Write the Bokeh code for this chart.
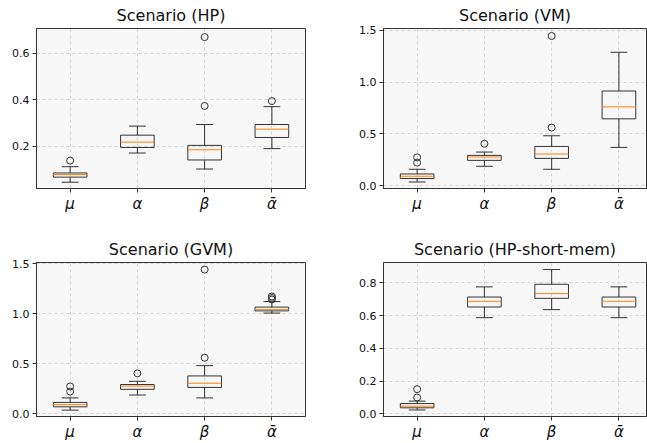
from bokeh.plotting import figure
from bokeh.layouts import gridplot
from bokeh.models import FixedTicker, NumeralTickFormatter, ColumnDataSource, Range1d
from bokeh.embed import file_html
from bokeh.resources import INLINE

# ---- data (box statistics) ----
params = ["μ", "α", "β", "α\u0304"]
positions = [1, 2, 3, 4]

hp_low = [0.044, 0.170, 0.101, 0.189]
hp_q1 = [0.066, 0.194, 0.140, 0.237]
hp_med = [0.077, 0.217, 0.184, 0.273]
hp_q3 = [0.084, 0.247, 0.203, 0.293]
hp_high = [0.111, 0.286, 0.293, 0.370]
hp_out_x = [1, 3, 3, 4]
hp_out_y = [0.137, 0.373, 0.670, 0.394]

vm_low = [0.038, 0.189, 0.160, 0.371]
vm_q1 = [0.071, 0.246, 0.265, 0.646]
vm_med = [0.093, 0.278, 0.307, 0.761]
vm_q3 = [0.115, 0.294, 0.380, 0.914]
vm_high = [0.160, 0.326, 0.483, 1.287]
vm_out_x = [1, 1, 2, 3, 3]
vm_out_y = [0.224, 0.275, 0.406, 0.562, 1.444]

gvm_low = [0.038, 0.189, 0.160, 1.009]
gvm_q1 = [0.071, 0.246, 0.265, 1.031]
gvm_med = [0.093, 0.278, 0.307, 1.043]
gvm_q3 = [0.115, 0.294, 0.380, 1.069]
gvm_high = [0.160, 0.326, 0.483, 1.124]
gvm_out_x = [1, 1, 2, 3, 3, 4, 4, 4]
gvm_out_y = [0.224, 0.275, 0.406, 0.562, 1.444, 1.145, 1.160, 1.175]

sm_low = [0.024, 0.588, 0.637, 0.588]
sm_q1 = [0.037, 0.653, 0.706, 0.653]
sm_med = [0.047, 0.688, 0.735, 0.688]
sm_q3 = [0.063, 0.714, 0.792, 0.714]
sm_high = [0.078, 0.776, 0.882, 0.776]
sm_out_x = [1, 1]
sm_out_y = [0.100, 0.151]

BOX_W = 0.5
CAP_W = 0.25
LINE = "#333333"
MED = "#ff7f0e"


def panel(title, low, q1, med, q3, high, ox, oy, yr, yticks, fmt, left, width, xend, top, bottom, height):
    p = figure(width=width, height=height, output_backend="svg", toolbar_location=None,
               x_range=Range1d(0.5, xend), y_range=Range1d(*yr),
               min_border_left=left, min_border_right=width - left - int(round((xend - 0.5) * 67.25)),
               min_border_top=top, min_border_bottom=bottom,
               background_fill_color="#f7f7f7", border_fill_color="white")
    p.title.text = title
    p.title.align = "center"
    p.title.text_font = "DejaVu Sans"
    p.title.text_font_size = "16px"
    p.title.text_font_style = "normal"
    p.title.text_color = "#111111"
    p.title.standoff = 7
    p.outline_line_color = LINE
    p.outline_line_width = 1

    src = ColumnDataSource(dict(x=positions, low=low, q1=q1, med=med, q3=q3, high=high,
                                l=[x - BOX_W / 2 for x in positions], r=[x + BOX_W / 2 for x in positions],
                                cl=[x - CAP_W / 2 for x in positions], cr=[x + CAP_W / 2 for x in positions]))
    p.segment(x0="x", y0="low", x1="x", y1="q1", source=src, line_color=LINE, line_width=1)
    p.segment(x0="x", y0="q3", x1="x", y1="high", source=src, line_color=LINE, line_width=1)
    p.segment(x0="cl", y0="low", x1="cr", y1="low", source=src, line_color=LINE, line_width=1)
    p.segment(x0="cl", y0="high", x1="cr", y1="high", source=src, line_color=LINE, line_width=1)
    p.quad(left="l", right="r", bottom="q1", top="q3", source=src, fill_color=None,
           line_color=LINE, line_width=1)
    p.segment(x0="l", y0="med", x1="r", y1="med", source=src, line_color=MED, line_width=1)
    p.scatter(ox, oy, marker="circle", size=7, fill_color=None, line_color=LINE, line_width=1)

    p.xaxis.ticker = FixedTicker(ticks=positions)
    p.xaxis.major_label_overrides = {pos: lab for pos, lab in zip(positions, params)}
    p.xaxis.major_label_text_font = "DejaVu Sans"
    p.xaxis.major_label_text_font_style = "italic"
    p.xaxis.major_label_text_font_size = "15px"
    p.xaxis.major_label_standoff = 2
    p.yaxis.ticker = FixedTicker(ticks=yticks)
    p.yaxis.formatter = NumeralTickFormatter(format=fmt)
    p.yaxis.major_label_text_font = "DejaVu Sans"
    p.yaxis.major_label_text_font_size = "11px"
    p.yaxis.major_label_standoff = 3
    for ax in (p.xaxis, p.yaxis):
        ax.axis_line_color = LINE
        ax.major_tick_line_color = LINE
        ax.major_tick_out = 4
        ax.major_tick_in = 0
        ax.minor_tick_line_color = None
        ax.major_label_text_color = "#111111"
    p.xgrid.ticker = FixedTicker(ticks=positions)
    for g in (p.xgrid, p.ygrid):
        g.grid_line_color = "#cccccc"
        g.grid_line_dash = "3 3"
        g.grid_line_alpha = 0.8
    return p


p1 = panel("Scenario (HP)", hp_low, hp_q1, hp_med, hp_q3, hp_high, hp_out_x, hp_out_y,
           (0.017, 0.707), [0.2, 0.4, 0.6], "0.0", 36, 323, 4.5, 27, 34, 222)
p2 = panel("Scenario (VM)", vm_low, vm_q1, vm_med, vm_q3, vm_high, vm_out_x, vm_out_y,
           (-0.025, 1.516), [0.0, 0.5, 1.0, 1.5], "0.0", 60, 324, 4.41, 27, 34, 222)
p3 = panel("Scenario (GVM)", gvm_low, gvm_q1, gvm_med, gvm_q3, gvm_high, gvm_out_x, gvm_out_y,
           (-0.026, 1.515), [0.0, 0.5, 1.0, 1.5], "0.0", 36, 323, 4.5, 40, 21, 221)
p4 = panel("Scenario (HP-short-mem)", sm_low, sm_q1, sm_med, sm_q3, sm_high, sm_out_x, sm_out_y,
           (-0.016, 0.925), [0.0, 0.2, 0.4, 0.6, 0.8], "0.0", 60, 324, 4.41, 40, 21, 221)

grid = gridplot([[p1, p2], [p3, p4]], toolbar_location=None)
open("out.html", "w").write(file_html(grid, INLINE))
